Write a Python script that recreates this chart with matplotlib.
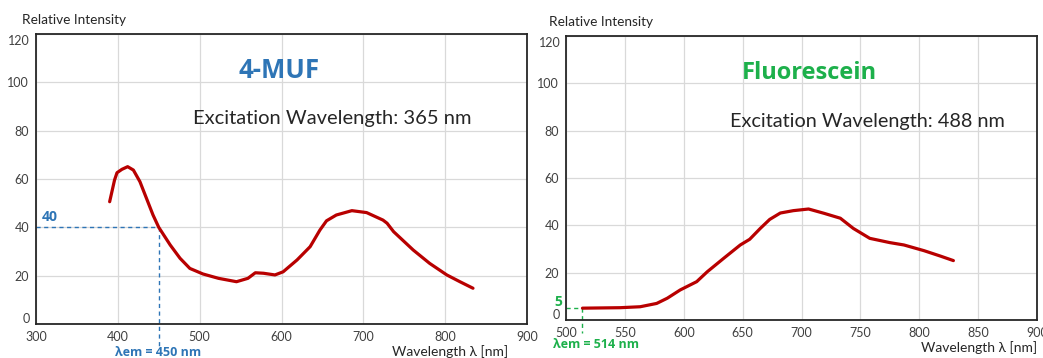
import matplotlib
matplotlib.use("Agg")
import matplotlib.pyplot as plt

plt.rcParams['font.family'] = ['Lato', 'DejaVu Sans']

# 4-MUF emission spectrum (excitation 365 nm)
muf_wl = [390, 396, 399, 405, 412, 419, 427, 435, 443, 450, 464, 476, 488, 504,
          523, 545, 559, 568, 578, 592, 602, 619, 635, 647, 655, 667, 686, 704,
          724, 729, 737, 761, 781, 802, 818, 834]
muf_int = [50.6, 59.6, 62.6, 64.0, 65.1, 63.7, 58.9, 52.0, 45.1, 40, 32.7, 27.2,
           23.0, 20.7, 18.9, 17.5, 18.9, 21.2, 21.0, 20.3, 21.6, 26.5, 32.0, 38.9,
           42.7, 45.1, 46.9, 46.1, 43.0, 41.7, 38.2, 30.6, 25.1, 20.3, 17.5, 14.8]

# Fluorescein emission spectrum (excitation 488 nm)
flu_wl = [514, 546, 563, 577, 586, 597, 611, 620, 634, 648, 656, 665, 673, 682,
          693, 706, 719, 733, 744, 758, 775, 787, 804, 818, 829]
flu_int = [5, 5.2, 5.6, 7.0, 9.2, 12.7, 16.2, 20.4, 26.1, 31.7, 34.1, 38.7, 42.5,
           45.2, 46.2, 46.9, 45.1, 43.0, 38.7, 34.5, 32.7, 31.7, 29.3, 27.0, 25.1]

muf_em, muf_em_int = 450, 40
flu_em, flu_em_int = 514, 5

muf_xticks = [300, 400, 500, 600, 700, 800, 900]
flu_xticks = [500, 550, 600, 650, 700, 750, 800, 850, 900]
yticks = [0, 20, 40, 60, 80, 100, 120]

W, H = 1043, 358
fig = plt.figure(figsize=(W / 100, H / 100), dpi=100)

LINE_RED = '#B80000'
BLUE = '#2E75B6'
GREEN = '#1DB04B'
TICK_GRAY = '#404040'
BOLD_FONT = ['Open Sans', 'DejaVu Sans']


def make_axes(rect_px, xticks, xlim):
    l, t, r, b = rect_px
    ax = fig.add_axes([l / W, (H - b) / H, (r - l) / W, (b - t) / H])
    ax.set_xlim(*xlim)
    ax.set_ylim(0, 120)
    ax.set_xticks(xticks)
    ax.set_yticks(yticks)
    ax.set_yticklabels([''] + [str(v) for v in yticks[1:-1]] + [''])
    ax.grid(True, color='#D9D9D9', linewidth=0.9)
    ax.set_axisbelow(True)
    ax.tick_params(length=0, labelsize=9, labelcolor=TICK_GRAY)
    ax.tick_params(axis='x', pad=5)
    ax.tick_params(axis='y', pad=5)
    for s in ax.spines.values():
        s.set_color('#262626')
        s.set_linewidth(1.3)
    # end labels sit slightly inside the frame
    ax.text(-0.012, 0.016, '0', transform=ax.transAxes, ha='right', va='center',
            fontsize=9, color=TICK_GRAY)
    ax.text(-0.012, 0.975, '120', transform=ax.transAxes, ha='right', va='center',
            fontsize=9, color=TICK_GRAY)
    return ax


ax1 = make_axes((36, 34, 527, 324), muf_xticks, (300, 900))
ax2 = make_axes((566, 36, 1037, 320), flu_xticks, (500, 900))

# spectra
ax1.plot(muf_wl, muf_int, color=LINE_RED, linewidth=2.3, solid_capstyle='round',
         solid_joinstyle='round', zorder=3)
ax2.plot(flu_wl, flu_int, color=LINE_RED, linewidth=2.3, solid_capstyle='round',
         solid_joinstyle='round', zorder=3)

# emission marker guides
dash = (0, (3, 2.5))
ax1.plot([300, muf_em], [muf_em_int, muf_em_int], color=BLUE, lw=1.0,
         ls=dash, clip_on=False, zorder=2)
ax1.plot([muf_em, muf_em], [muf_em_int, -9], color=BLUE, lw=1.0,
         ls=dash, clip_on=False, zorder=2)
ax2.plot([500, flu_em], [flu_em_int, flu_em_int], color=GREEN, lw=1.0,
         ls=dash, clip_on=False, zorder=2)
ax2.plot([flu_em, flu_em], [flu_em_int, -5.5], color=GREEN, lw=1.0,
         ls=dash, clip_on=False, zorder=2)

ax1.text(307, 44.3, str(muf_em_int), color=BLUE, fontsize=10,
         fontweight='bold', family=BOLD_FONT, ha='left', va='center')
ax2.text(496.6, 7.6, str(flu_em_int), color=GREEN, fontsize=10,
         fontweight='bold', family=BOLD_FONT, ha='right', va='center')

fig.text(158 / W, 1 - 352 / H, 'λem = %d nm' % muf_em, color=BLUE, fontsize=9,
         fontweight='bold', family=BOLD_FONT, ha='center', va='center')
fig.text(596 / W, 1 - 344 / H, 'λem = %d nm' % flu_em, color=GREEN, fontsize=9,
         fontweight='bold', family=BOLD_FONT, ha='center', va='center')

# titles and annotations
ax1.text(597, 105, '4-MUF', color=BLUE, fontsize=18.5, fontweight='bold',
         family=BOLD_FONT, ha='center', va='center')
ax2.text(707, 104.4, 'Fluorescein', color=GREEN, fontsize=17, fontweight='bold',
         family=BOLD_FONT, ha='center', va='center')
ax1.text(0.604, 0.707, 'Excitation Wavelength: 365 nm', transform=ax1.transAxes,
         fontsize=14.5, color='#262626', ha='center', va='center')
ax2.text(0.641, 0.70, 'Excitation Wavelength: 488 nm', transform=ax2.transAxes,
         fontsize=14.3, color='#262626', ha='center', va='center')

fig.text(22 / W, 1 - 20 / H, 'Relative Intensity', fontsize=9.8, color='#262626',
         ha='left', va='center')
fig.text(549 / W, 1 - 22 / H, 'Relative Intensity', fontsize=9.8, color='#262626',
         ha='left', va='center')
fig.text(508 / W, 1 - 352 / H, 'Wavelength λ [nm]', fontsize=10, color='#262626',
         ha='right', va='center')
fig.text(1037 / W, 1 - 348 / H, 'Wavelength λ [nm]', fontsize=10, color='#262626',
         ha='right', va='center')

fig.savefig('out.png', dpi=100)
